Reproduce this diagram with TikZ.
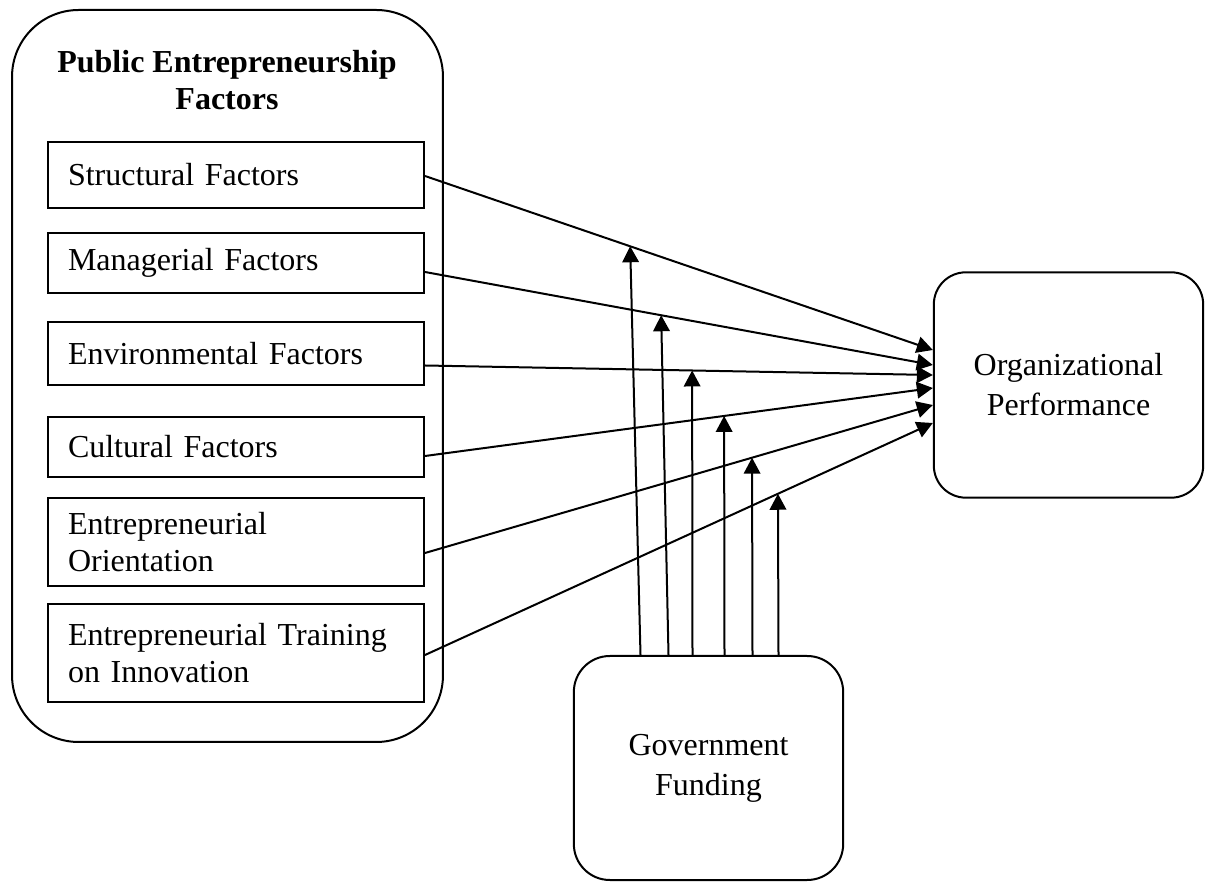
\documentclass[tikz,border=0pt]{standalone}
\usepackage{fontspec}
\setmainfont{Liberation Serif}
\usetikzlibrary{arrows.meta, calc, positioning}

\begin{document}
\begin{tikzpicture}[x=0.375pt, y=-0.375pt, >={Triangle[length=6pt, width=6.2pt]},
  line width=0.75pt, font=\fontsize{12}{13.8}\selectfont,
  factor/.style={draw, text width=126pt, inner xsep=7.5pt, align=left},
  outcome/.style={draw, rounded corners=12pt, minimum width=101pt,
    minimum height=84.5pt, align=center, font=\fontsize{12}{15}\selectfont}]

\useasboundingbox (0,0) rectangle (1206,882);

% Public entrepreneurship factors (outer box)
\node[draw, rounded corners=25pt, minimum width=161.6pt, minimum height=274.5pt] (pef) at (227.5,376) {};
\node[align=center, font=\fontsize{12}{13.8}\selectfont\bfseries] (title) at (227,80) {Public Entrepreneurship\\Factors};

% Factors
\node[factor, minimum height=24.75pt] (sf) at (236,175) {Structural Factors};
\node[factor, minimum height=22.5pt] (mf) at (236,263) {Managerial Factors};
\node[factor, minimum height=23.6pt] (ef) at (236,353.5) {Environmental Factors};
\node[factor, minimum height=22.5pt] (cf) at (236,447) {Cultural Factors};
\node[factor, minimum height=33pt] (eo) at (236,542) {Entrepreneurial\\Orientation};
\node[factor, minimum height=36.75pt] (et) at (236,653) {Entrepreneurial Training\\on Innovation};

% Outcome and moderator
\node[outcome] (op) at (1068.5,385) {Organizational\\Performance};
\node[outcome, rounded corners=13.5pt, minimum height=84pt] (gf) at (708.5,768) {Government\\Funding};

% Direct and moderating effects
\foreach \src/\sy/\ty/\p/\gx [count=\i] in {sf/1/-35/0.404/-68, mf/9/-20/0.465/-40,
    ef/12/-10/0.526/-16, cf/9/3/0.589/16, eo/11/20/0.644/44, et/2/38/0.695/70} {
  \draw[->] ($(\src.east)+(0,\sy)$) -- coordinate[pos=\p] (m\i) ($(op.west)+(0,\ty)$);
  \draw[->] ($(gf.north)+(\gx,0)$) -- (m\i);
}

\end{tikzpicture}
\end{document}
